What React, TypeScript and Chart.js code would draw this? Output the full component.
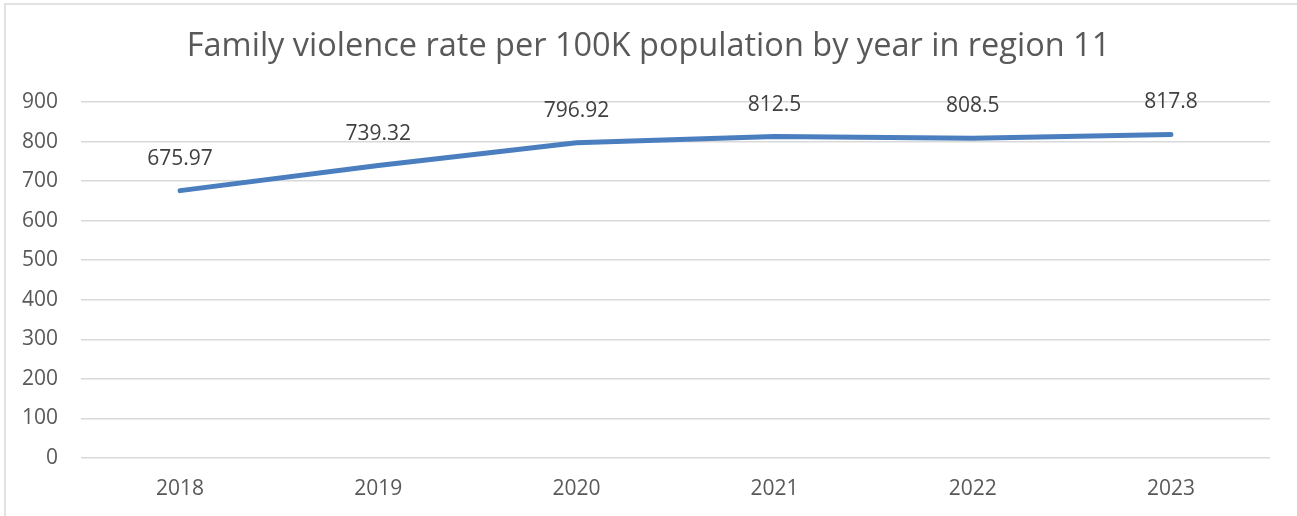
import React, { useEffect, useRef } from "react";
import { Chart, registerables } from "chart.js";

Chart.register(...registerables);

const years: string[] = ["2018", "2019", "2020", "2021", "2022", "2023"];
const rates: number[] = [675.97, 739.32, 796.92, 812.5, 808.5, 817.8];
const rateLabels: string[] = ["675.97", "739.32", "796.92", "812.5", "808.5", "817.8"];
const titleText = "Family violence rate per 100K population by year in region 11";

const FONT = "'Open Sans', 'DejaVu Sans', sans-serif";

const decorPlugin = {
  id: "decor",
  beforeDraw(chart: any) {
    const ctx = chart.ctx;
    ctx.save();
    ctx.strokeStyle = "#d9d9d9";
    ctx.lineWidth = 1.5;
    ctx.beginPath();
    ctx.moveTo(5, chart.height);
    ctx.lineTo(5, 4);
    ctx.lineTo(chart.width, 4);
    ctx.stroke();
    ctx.restore();
  },
  afterDatasetsDraw(chart: any) {
    const ctx = chart.ctx;
    const meta = chart.getDatasetMeta(0);
    ctx.save();
    ctx.fillStyle = "#404040";
    ctx.font = `21px ${FONT}`;
    ctx.textAlign = "center";
    ctx.textBaseline = "middle";
    meta.data.forEach((pt: any, i: number) => {
      ctx.fillText(rateLabels[i], pt.x, pt.y - 32);
    });
    ctx.restore();
  },
};

export default function App() {
  const ref = useRef<HTMLCanvasElement | null>(null);
  useEffect(() => {
    document.body.style.margin = "0";
    if (!ref.current) return;
    const chart = new Chart(ref.current, {
      type: "line",
      data: {
        labels: years,
        datasets: [
          {
            data: rates,
            yAxisID: "y",
            borderColor: "#4A7EBF",
            backgroundColor: "#4A7EBF",
            borderWidth: 5,
            borderCapStyle: "round",
            borderJoinStyle: "round",
            pointRadius: 0,
            tension: 0,
            fill: false,
          },
        ],
      },
      options: {
        animation: false,
        responsive: false,
        maintainAspectRatio: false,
        layout: { padding: 0 },
        plugins: {
          legend: { display: false },
          tooltip: { enabled: false },
          title: {
            display: true,
            text: titleText,
            color: "#595959",
            font: { family: FONT, size: 32.5, weight: "normal" },
            padding: { top: 27, bottom: 36 },
          },
        },
        scales: {
          x: {
            offset: true,
            grid: { display: false, drawTicks: false },
            border: { display: false },
            ticks: { color: "#595959", font: { family: FONT, size: 21 }, padding: 18 },
            afterFit: (s: any) => {
              s.height = 58;
            },
          },
          y: {
            position: "left",
            min: 0,
            max: 900,
            grid: { color: "#d9d9d9", lineWidth: 1.5, drawTicks: false },
            border: { display: false },
            ticks: { stepSize: 100, color: "#595959", font: { family: FONT, size: 21 }, padding: 23 },
            afterFit: (s: any) => {
              s.width = 81;
            },
          },
          yRight: {
            position: "right",
            min: 0,
            max: 900,
            grid: { display: false, drawTicks: false },
            border: { display: false },
            ticks: { display: false },
            afterFit: (s: any) => {
              s.width = 27;
            },
          },
        },
      },
      plugins: [decorPlugin],
    });
    return () => chart.destroy();
  }, []);
  return <canvas ref={ref} width={1297} height={516} style={{ display: "block" }} />;
}
